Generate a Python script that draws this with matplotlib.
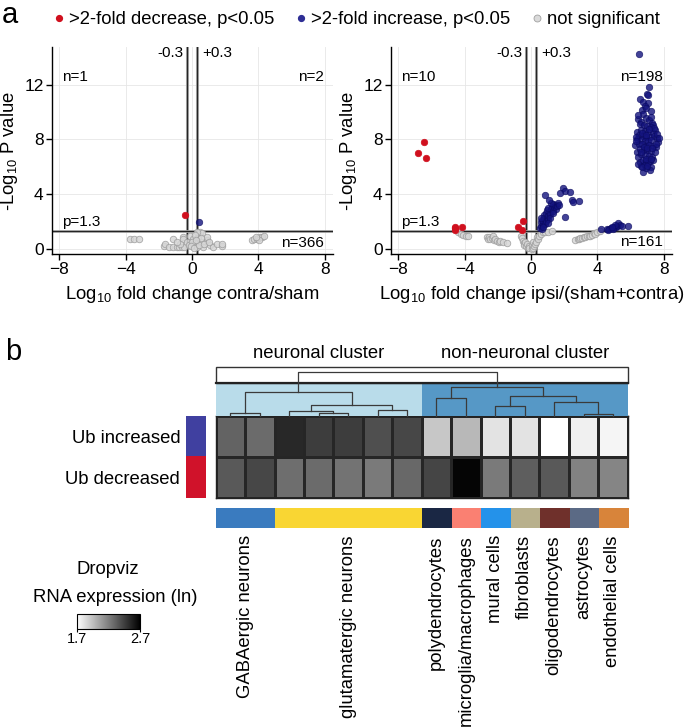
import matplotlib
matplotlib.use('Agg')
import matplotlib.pyplot as plt
import numpy as np
from matplotlib.colors import ListedColormap, LinearSegmentedColormap, Normalize
from matplotlib.lines import Line2D
from matplotlib.patches import Rectangle
from matplotlib.cm import ScalarMappable

plt.rcParams['font.family'] = ['Liberation Sans', 'DejaVu Sans']
plt.rcParams['mathtext.fontset'] = 'custom'
plt.rcParams['mathtext.rm'] = 'Liberation Sans'
plt.rcParams['mathtext.it'] = 'Liberation Sans:italic'
plt.rcParams['mathtext.bf'] = 'Liberation Sans:bold'

# ---------------- Panel a data ----------------
contra_red_x = [-0.40]
contra_red_y = [2.45]
contra_blue_x = [0.40]
contra_blue_y = [1.95]
contra_gray_x = [-3.73, -3.49, -3.19, 3.60, 3.75, 3.90, 4.00, 4.10, 4.20, 4.35, 4.05, 3.85,
                 -1.67, -1.63, -1.40, -1.12, -1.12, -0.92, -0.80, -0.62, -0.56, -0.52,
                 -0.50, -0.32, -0.20, -0.12, 0.08, 0.18, 0.28, 0.38, 0.48, 0.48,
                 0.58, 0.58, 0.68, 0.88, 0.88, 1.08, 1.28, 1.49, 1.79, 1.79,
                 0.30, 0.20, 0.00, -0.05, 0.10, 0.40, 0.70, 1.00, -0.70, -0.90, 0.55, 0.25]
contra_gray_y = [0.75, 0.75, 0.75, 0.66, 0.70, 0.75, 0.80, 0.85, 0.88, 0.92, 0.68, 0.85,
                 0.21, 0.34, 0.17, 0.17, 0.71, 0.17, 0.17, 0.17, 0.90, 0.71,
                 0.17, 0.53, 0.30, 0.95, 0.71, 0.41, 0.17, 0.90, 1.14, 1.25,
                 0.53, 1.15, 0.17, 0.66, 0.85, 0.29, 0.17, 0.34, 0.21, 0.34,
                 1.22, 1.00, 0.50, 0.20, 0.10, 0.30, 0.40, 0.50, 0.40, 0.50, 0.80, 0.65]

ipsi_red_x = [-6.43, -6.83, -6.30, -4.58, -4.58, -4.58, -4.14, -0.46, -0.80, -0.56]
ipsi_red_y = [7.80, 6.98, 6.62, 1.51, 1.40, 1.62, 1.63, 2.07, 1.58, 1.39]

ipsi_blue_x = [6.51,
               7.13, 6.97, 7.07, 6.57, 6.77, 7.07, 6.88, 6.67, 6.95, 7.20,
               6.77, 6.47, 6.60, 6.90, 7.10, 7.30, 7.37, 6.55, 6.80, 7.00, 7.25, 7.47, 6.37, 6.62,
               6.85, 7.05, 7.35, 6.50, 6.75, 6.95, 7.15, 7.40, 7.57, 6.40, 6.60, 6.85, 7.05, 7.25,
               7.67, 6.27, 6.50, 6.70, 6.92, 7.12, 7.35, 7.55, 6.37, 6.55, 6.78, 7.00, 7.20, 7.45,
               6.47, 6.65, 6.88, 7.08, 7.30, 6.57, 6.75, 6.95, 7.15, 7.37, 6.60, 6.85, 7.07, 7.25,
               6.77, 7.17, 6.90, 6.45, 7.50, 7.60, 6.30, 6.35, 7.70, 6.45, 7.25, 7.40, 6.70, 6.90,
               7.10, 6.80, 7.00, 6.65, 7.30, 6.95, 7.20, 6.70, 7.00,
               # mid cluster
               0.55, 0.62, 0.70, 0.60, 0.75, 0.68, 0.80, 0.85, 0.90, 0.95, 0.78, 0.88, 1.00, 1.05,
               1.10, 0.98, 1.15, 1.20, 1.25, 1.05, 1.30, 1.35, 1.40, 1.45, 1.50, 1.55, 1.60, 1.20,
               0.85, 1.10, 1.70, 1.95, 2.05, 2.35, 2.45, 2.50, 2.91, 1.75, 2.05, 0.65, 0.72, 1.15,
               1.00, 0.58, 1.35,
               # low right cluster
               4.22, 4.55, 4.70, 4.80, 4.90, 5.00, 5.10, 5.20, 5.26, 5.35, 5.45, 5.82, 4.65, 4.95,
               5.05, 4.85]
ipsi_blue_y = [14.23,
               11.80, 11.31, 11.24, 10.92, 10.75, 10.68, 10.45, 10.15, 10.30, 10.05,
               9.85, 9.46, 9.30, 9.55, 9.40, 9.20, 9.05, 9.10, 9.05, 8.95, 8.90, 8.66, 8.56, 8.70,
               8.60, 8.55, 8.45, 8.30, 8.25, 8.20, 8.15, 8.25, 8.08, 8.00, 7.95, 7.90, 7.85, 7.95,
               7.84, 7.59, 7.70, 7.65, 7.55, 7.60, 7.50, 7.45, 7.10, 7.30, 7.25, 7.20, 7.15, 7.05,
               6.74, 6.90, 6.85, 6.80, 6.70, 6.37, 6.50, 6.45, 6.40, 6.50, 6.05, 6.10, 6.25, 6.00,
               5.64, 5.77, 5.90, 6.20, 7.70, 8.40, 8.20, 7.85, 8.10, 9.80, 9.60, 8.80, 8.45, 8.35,
               8.75, 7.45, 7.40, 7.05, 7.35, 6.60, 6.55, 5.95, 6.05,
               1.55, 1.70, 1.85, 1.95, 2.00, 2.15, 2.25, 1.80, 2.05, 2.35, 2.50, 2.60, 2.20, 2.45,
               2.70, 2.85, 2.55, 2.90, 3.10, 3.00, 2.80, 3.30, 3.05, 3.25, 2.95, 3.15, 3.35, 3.35,
               3.94, 3.60, 3.20, 4.43, 4.20, 4.18, 3.58, 3.40, 3.50, 4.06, 2.36, 1.50, 1.62, 2.30,
               1.90, 2.30, 2.60,
               1.43, 1.45, 1.50, 1.52, 1.55, 1.58, 1.62, 1.70, 1.92, 1.75, 1.68, 1.70, 1.38, 1.45,
               1.72, 1.62]

ipsi_gray_x = [-4.38, -4.20, -4.08, -3.90, -3.78,
               -2.67, -2.60, -2.55, -2.45, -2.35, -2.30, -2.25, -2.15, -2.05, -1.95, -1.85, -1.70, -1.47,
               -0.60, -0.56, -0.50, -0.45, -0.40, -0.35, -0.30, -0.25, -0.20, -0.15, -0.10, 0.04, 0.05,
               0.10, 0.15, 0.20, 0.25, 0.30, 0.35, 0.40, 0.50, 0.60, 0.70, 0.85, 1.00, 1.25,
               2.65, 2.80, 2.90, 2.95, 3.10, 3.20, 3.25, 3.40, 3.50, 3.55, 3.70, 3.80, 3.85, 4.00, 4.16]
ipsi_gray_y = [1.22, 1.12, 1.02, 0.98, 0.95,
               0.90, 0.70, 0.88, 0.75, 0.80, 0.95, 0.65, 0.70, 0.58, 0.55, 0.62, 0.50, 0.46,
               0.95, 0.78, 0.60, 0.45, 0.30, 0.55, 0.20, 0.40, 0.10, 0.25, 0.05, -0.02, 0.30,
               0.10, 0.50, 0.25, 0.40, 0.55, 0.90, 0.75, 0.95, 1.10, 1.22, 1.28, 1.25, 1.30,
               0.66, 0.72, 0.70, 0.78, 0.82, 0.85, 0.88, 0.92, 0.95, 0.98, 1.05, 1.15, 1.12, 1.25, 1.30]

contra_counts = ['n=1', 'n=2', 'n=366']
ipsi_counts = ['n=10', 'n=198', 'n=161']
legend_labels = ['>2-fold decrease, p<0.05', '>2-fold increase, p<0.05', 'not significant']
fc_threshold = 0.3
p_threshold = 1.3

# ---------------- Panel b data ----------------
row_labels = ['Ub increased', 'Ub decreased']
heat_increased = [2.31, 2.28, 2.54, 2.46, 2.46, 2.39, 2.42, 1.92, 1.98, 1.81, 1.81, 1.70, 1.76, 1.74]
heat_decreased = [2.35, 2.42, 2.27, 2.28, 2.25, 2.22, 2.29, 2.43, 2.68, 2.22, 2.33, 2.35, 2.19, 2.18]
cell_types = ['GABAergic neurons', 'glutamatergic neurons', 'polydendrocytes',
              'microglia/macrophages', 'mural cells', 'fibroblasts', 'oligodendrocytes',
              'astrocytes', 'endothelial cells']
column_type = [0, 0, 1, 1, 1, 1, 1, 2, 3, 4, 5, 6, 7, 8]
type_colors = ['#3A7BBF', '#F9D633', '#1A2744', '#FA8072', '#2492EA', '#B8B08C',
               '#6F302B', '#5B6A85', '#D8843A']
# dendrogram merges: (left node, right node, height)
merges = [(0, 1, 3.3), (3, 4, 3.3), (2, 15, 5.0), (5, 6, 6.5), (16, 17, 11.5), (14, 18, 24.3),
          (7, 8, 17.7), (9, 10, 10.0), (12, 13, 1.7), (11, 22, 14.3), (21, 23, 20.0),
          (20, 24, 28.7), (19, 25, 44.3)]
cluster_names = ['neuronal cluster', 'non-neuronal cluster']
vmin_expr, vmax_expr = 1.7, 2.7

# ---------------- Figure ----------------
W, H = 685, 728
fig = plt.figure(figsize=(W / 100, H / 100), dpi=100)

def fx(px):
    return px / W

def fy(py):
    return 1 - py / H

RED = '#D0101E'
BLUE = '#14147F'
FS = 13.3

def volcano(ax, gx, gy, rx, ry, bx, by, counts, xlabel, ntxt_y):
    ax.scatter(gx, gy, s=22, facecolor='#D6D6D6', edgecolor='#9C9C9C', linewidths=0.6,
               alpha=0.85, zorder=3)
    ax.scatter(bx, by, s=22, facecolor=BLUE, edgecolor='#0A0A60', linewidths=0.5,
               alpha=0.8, zorder=4)
    ax.scatter(rx, ry, s=22, facecolor=RED, edgecolor=RED, linewidths=0.5, zorder=4)
    for xv in (-fc_threshold, fc_threshold):
        ax.axvline(xv, color='#9a9a9a', lw=2.2, zorder=2)
        ax.axvline(xv, color='#222222', lw=0.7, zorder=2)
    ax.axhline(p_threshold, color='#9a9a9a', lw=2.0, zorder=2)
    ax.axhline(p_threshold, color='#222222', lw=0.7, zorder=2)
    ax.set_xlim(-8.43, 8.49)
    ax.set_ylim(-0.36, 14.74)
    ax.set_xticks([-8, -4, 0, 4, 8])
    ax.set_yticks([0, 4, 8, 12])
    ax.grid(color='#E6E6E6', lw=0.6)
    ax.set_axisbelow(True)
    for s in ('top', 'right'):
        ax.spines[s].set_visible(False)
    for s in ('left', 'bottom'):
        ax.spines[s].set_linewidth(1.0)
    ax.tick_params(labelsize=12.5, length=4, width=1, pad=2, colors='black')
    ax.set_xlabel(xlabel, fontsize=FS, labelpad=5)
    ax.set_ylabel(r'-Log$_{\mathregular{10}}$ P value', fontsize=FS, labelpad=3)
    ax.text(-7.85, 1.95, 'p=1.3', fontsize=11, ha='left', va='center')
    ax.text(-7.85, 12.55, counts[0], fontsize=11, ha='left', va='center')
    ax.text(7.95, 12.55, counts[1], fontsize=11, ha='right', va='center')
    ax.text(7.95, ntxt_y, counts[2], fontsize=11, ha='right', va='center')
    ax.text(-0.52, 14.3, '-0.3', fontsize=11, ha='right', va='center')
    ax.text(0.62, 14.3, '+0.3', fontsize=11, ha='left', va='center')

ax1 = fig.add_axes([fx(52), fy(254), fx(333) - fx(52), fy(47) - fy(254)])
volcano(ax1, contra_gray_x, contra_gray_y, contra_red_x, contra_red_y,
        contra_blue_x, contra_blue_y, contra_counts,
        r'Log$_{\mathregular{10}}$ fold change contra/sham', 0.44)
ax2 = fig.add_axes([fx(391), fy(254), fx(672) - fx(391), fy(47) - fy(254)])
volcano(ax2, ipsi_gray_x, ipsi_gray_y, ipsi_red_x, ipsi_red_y,
        ipsi_blue_x, ipsi_blue_y, ipsi_counts,
        r'Log$_{\mathregular{10}}$ fold change ipsi/(sham+contra)', 0.5)

handles = [Line2D([], [], ls='', marker='o', ms=4.2, mfc=RED, mec=RED),
           Line2D([], [], ls='', marker='o', ms=4.2, mfc='#2E2E95', mec='#2E2E95'),
           Line2D([], [], ls='', marker='o', ms=5.0, mfc='#DADADA', mec='#A0A0A0', mew=0.6)]
fig.legend(handles, legend_labels, ncol=3, loc='center', bbox_to_anchor=(fx(357), fy(20)),
           frameon=False, fontsize=FS, handlelength=0.5, handletextpad=0.3,
           columnspacing=1.2, borderpad=0, borderaxespad=0)

fig.text(fx(2), fy(23), 'a', fontsize=21, ha='left', va='baseline')
fig.text(fx(5), fy(360), 'b', fontsize=21, ha='left', va='baseline')

# ---------------- Panel b ----------------
hx0, hx1 = 215.7, 627.7
ncol = len(heat_increased)
heat = np.array([heat_increased, heat_decreased])
gray_cmap = LinearSegmentedColormap.from_list('wk', ['#FFFFFF', '#000000'])

ax_h = fig.add_axes([fx(hx0), fy(498.3), fx(hx1) - fx(hx0), fy(416) - fy(498.3)])
ax_h.pcolormesh(np.arange(ncol + 1), np.arange(3), heat, cmap=gray_cmap,
                vmin=vmin_expr, vmax=vmax_expr, edgecolors='#262626', linewidth=0.8)
ax_h.set_xlim(0, ncol)
ax_h.set_ylim(2, 0)
ax_h.set_xticks([])
ax_h.set_yticks([])
for s in ax_h.spines.values():
    s.set_linewidth(1.0)
    s.set_color('#222222')

# dendrogram
dend_h = 416 - 367.3
blue_h = 416 - 382.7
ax_d = fig.add_axes([fx(hx0), fy(416), fx(hx1) - fx(hx0), fy(367.3) - fy(416)])
ax_d.set_xlim(0, ncol)
ax_d.set_ylim(0, dend_h)
ax_d.axis('off')
ax_d.add_patch(Rectangle((0, 0), 7, blue_h, facecolor='#B9DCEA', edgecolor='none', zorder=0))
ax_d.add_patch(Rectangle((7, 0), 7, blue_h, facecolor='#5698C6', edgecolor='none', zorder=0))
ax_d.add_patch(Rectangle((0, blue_h), ncol, dend_h - blue_h, facecolor='white',
                         edgecolor='#333333', lw=1.0, zorder=1, clip_on=False))
ax_d.plot([0, ncol], [blue_h, blue_h], color='#222222', lw=1.6, zorder=2, clip_on=False)
pos = {i: i + 0.5 for i in range(ncol)}
hgt = {i: 0.0 for i in range(ncol)}
for k, (a, b, h) in enumerate(merges):
    node = ncol + k
    ax_d.plot([pos[a], pos[a], pos[b], pos[b]], [hgt[a], h, h, hgt[b]],
              color='#3A3A3A', lw=0.9, zorder=3, clip_on=False)
    pos[node] = (pos[a] + pos[b]) / 2
    hgt[node] = h
ax_d.text(3.5, dend_h + 13.3, cluster_names[0], fontsize=FS, ha='center', va='center')
ax_d.text(10.5, dend_h + 13.3, cluster_names[1], fontsize=FS, ha='center', va='center')

# side bar
ax_s = fig.add_axes([fx(185.7), fy(498.3), fx(205.7) - fx(185.7), fy(416) - fy(498.3)])
ax_s.imshow([[0], [1]], cmap=ListedColormap(['#4040A0', '#D0122A']), aspect='auto',
            extent=(0, 1, 2, 0))
ax_s.set_xticks([])
ax_s.set_yticks([0.5, 1.5])
ax_s.set_yticklabels(row_labels, fontsize=FS)
ax_s.tick_params(length=0, pad=4)
for s in ax_s.spines.values():
    s.set_visible(False)

# column color bar
ax_c = fig.add_axes([fx(hx0), fy(528.3), fx(hx1) - fx(hx0), fy(507.7) - fy(528.3)])
ax_c.imshow([column_type], cmap=ListedColormap(type_colors), aspect='auto',
            extent=(0, ncol, 1, 0), vmin=-0.5, vmax=len(type_colors) - 0.5)
centers = [np.mean([i + 0.5 for i, t in enumerate(column_type) if t == g])
           for g in range(len(cell_types))]
ax_c.set_xticks(centers)
ax_c.set_xticklabels(cell_types, rotation=90, fontsize=FS, ha='center', va='top')
ax_c.set_yticks([])
ax_c.tick_params(length=0, pad=5)
for s in ax_c.spines.values():
    s.set_visible(False)

# colorbar legend
cax = fig.add_axes([fx(76.7), fy(629.3), fx(140) - fx(76.7), fy(614) - fy(629.3)])
sm = ScalarMappable(norm=Normalize(vmin_expr, vmax_expr), cmap=gray_cmap)
cb = fig.colorbar(sm, cax=cax, orientation='horizontal', ticks=[vmin_expr, vmax_expr])
cb.ax.tick_params(labelsize=10.5, length=2, width=0.8, pad=0)
cb.outline.set_linewidth(0.8)
fig.text(fx(108), fy(570), 'Dropviz', fontsize=FS, ha='center', va='center')
fig.text(fx(115), fy(597), 'RNA expression (ln)', fontsize=FS, ha='center', va='center')

fig.savefig('out.png', dpi=100)
